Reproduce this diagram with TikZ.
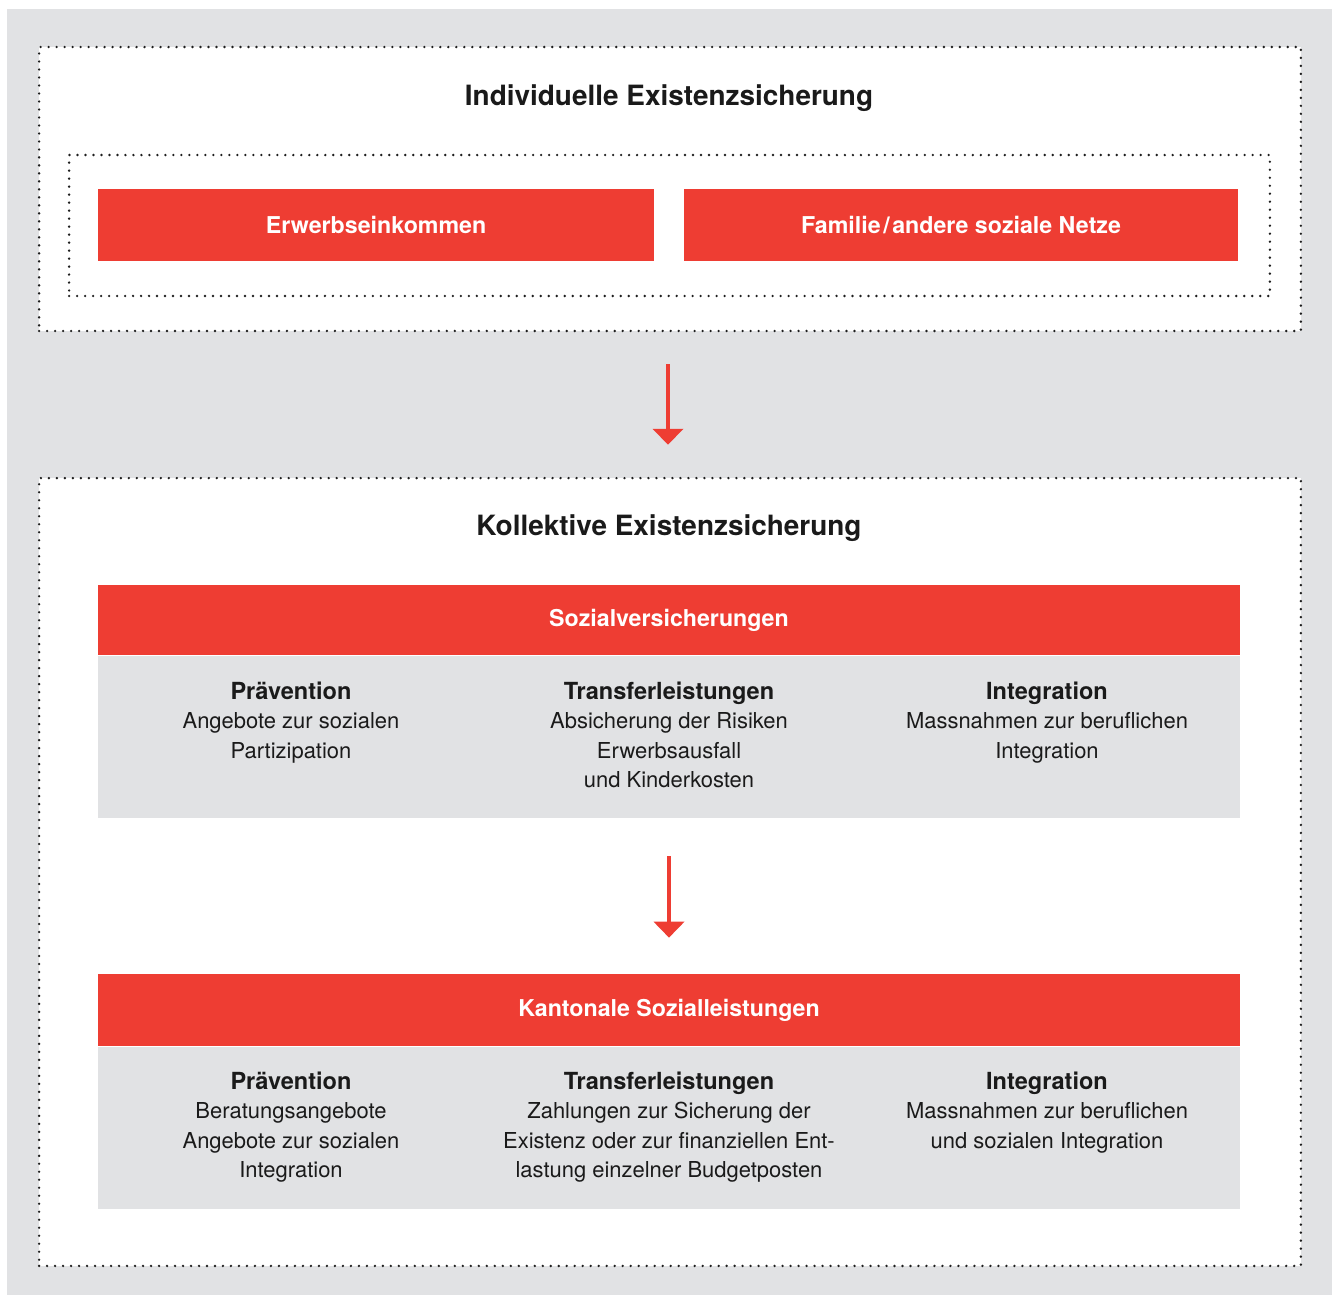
\documentclass[tikz,border=0pt]{standalone}
\usepackage{fontspec}
\setmainfont{TeX Gyre Heros}
\usepackage{xcolor}
\usetikzlibrary{arrows.meta,positioning}
\definecolor{bfsred}{HTML}{EE3D33}
\definecolor{bfsgrey}{HTML}{E1E2E4}
\definecolor{dotgrey}{HTML}{1E1E1E}
\definecolor{txtgrey}{HTML}{1A1A1A}
\newcommand{\colhead}[1]{{\bfseries\fontsize{13.4}{16.8}\selectfont #1}}

\begin{document}
\begin{tikzpicture}[x=0.02cm, y=-0.02cm,
  panel/.style={draw=dotgrey, fill=white, line width=1.5pt, line cap=round,
    dash pattern=on 0pt off 4.55pt, inner sep=0pt},
  redbox/.style={fill=bfsred, text=white, inner sep=0pt,
    font=\bfseries\fontsize{13.2}{16}\selectfont},
  greybox/.style={fill=bfsgrey, inner sep=0pt},
  titletext/.style={text=txtgrey, font=\bfseries\fontsize{15.9}{18}\selectfont},
  coltext/.style={anchor=north, align=center, text=txtgrey, inner sep=0pt,
    font=\fontsize{12.5}{16.8}\selectfont},
  downarrow/.style={bfsred, line width=0.08cm,
    -{Triangle[length=0.32cm, width=0.6cm]}}
]
  \useasboundingbox (0,0) rectangle (1332,1295);
  \fill[bfsgrey] (7,9) rectangle (1332,1295);

  % individuelle Ebene
  \node[panel, minimum width=25.24cm, minimum height=5.68cm] (ind) at (670,189) {};
  \node[titletext] (indtitle) at (669,98) {Individuelle Existenzsicherung};
  \node[panel, minimum width=24.02cm, minimum height=2.82cm] (netz) at (669.5,225.5) {};
  \node[redbox, minimum width=11.12cm, minimum height=1.44cm] (erwerb) at (376,225)
    {Erwerbseinkommen};
  \node[redbox, minimum width=11.08cm, minimum height=1.44cm] (familie) at (961,225)
    {Familie\kern1.5pt/\kern1.5pt andere soziale Netze};

  % kollektive Ebene
  \node[panel, minimum width=25.24cm, minimum height=15.76cm] (koll) at (670,872) {};
  \node[titletext] (kolltitle) at (669,528) {Kollektive Existenzsicherung};

  \draw[downarrow, shorten <=0.64cm, shorten >=0.64cm]
    ([xshift=-0.04cm]ind.south) -- ([xshift=-0.04cm]koll.north);

  % Sozialversicherungen
  \node[redbox, minimum width=22.84cm, minimum height=1.4cm] (sv) at (669,620)
    {Sozialversicherungen};
  \node[greybox, minimum width=22.84cm, minimum height=3.24cm, below=0pt of sv] (svbody) {};
  \node[coltext] (svprae) at (291,681.5)
    {\colhead{Prävention}\\Angebote zur sozialen\\Partizipation};
  \node[coltext] (svtrans) at (669,681.5)
    {\colhead{Transferleistungen}\\Absicherung der Risiken\\Erwerbsausfall\\und Kinderkosten};
  \node[coltext] (svint) at (1047,681.5)
    {\colhead{Integration}\\Massnahmen zur beruflichen\\Integration};

  % Kantonale Sozialleistungen
  \node[redbox, minimum width=22.84cm, minimum height=1.44cm] (ks) at (669,1010)
    {Kantonale Sozialleistungen};
  \node[greybox, minimum width=22.84cm, minimum height=3.24cm, below=0pt of ks] (ksbody) {};
  \node[coltext] (ksprae) at (291,1071.5)
    {\colhead{Prävention}\\Beratungsangebote\\Angebote zur sozialen\\Integration};
  \node[coltext] (kstrans) at (669,1071.5)
    {\colhead{Transferleistungen}\\Zahlungen zur Sicherung der\\Existenz oder zur finanziellen Ent-\\lastung einzelner Budgetposten};
  \node[coltext] (ksint) at (1047,1071.5)
    {\colhead{Integration}\\Massnahmen zur beruflichen\\und sozialen Integration};

  \draw[downarrow, shorten <=0.76cm, shorten >=0.72cm] (svbody.south) -- (ks.north);
\end{tikzpicture}
\end{document}
